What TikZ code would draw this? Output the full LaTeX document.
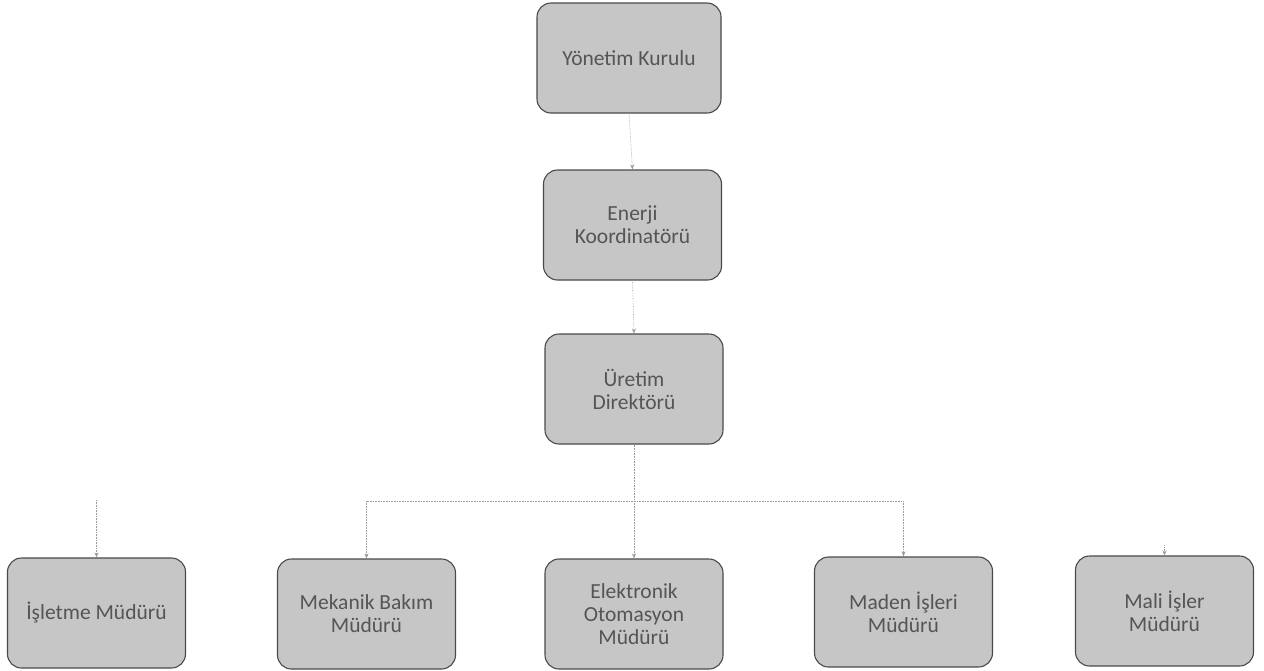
\documentclass[tikz,border=0pt]{standalone}
\usepackage{fontspec}
\setmainfont{Carlito}
\usetikzlibrary{arrows.meta}
\definecolor{boxfill}{HTML}{C6C6C6}
\definecolor{boxline}{HTML}{4A4A4A}
\definecolor{txt}{HTML}{555555}
\definecolor{conn}{HTML}{9A9A9A}
\begin{document}
\begin{tikzpicture}[x=1pt,y=-1pt,
  orgbox/.style={draw=boxline, line width=1.1pt, fill=boxfill, rounded corners=14pt,
    minimum width=178pt, minimum height=110pt, align=center, text=txt,
    font=\fontsize{21.5}{23}\selectfont, inner sep=2pt},
  link/.style={draw=conn, line width=0.6pt, densely dotted, -{Stealth[length=5pt,width=4pt]}},
  plain/.style={draw=conn, line width=0.6pt, densely dotted}]
\useasboundingbox (0,0) rectangle (1264,670);
\node[orgbox, minimum width=184pt] (yk) at (629,58) {Yönetim Kurulu};
\node[orgbox] (ek) at (632.5,225) {Enerji\\Koordinatörü};
\node[orgbox] (ud) at (634,389) {Üretim\\Direktörü};
\node[orgbox] (im) at (96.5,613) {İşletme Müdürü};
\node[orgbox] (mb) at (366.5,614) {Mekanik Bakım\\Müdürü};
\node[orgbox] (eo) at (634,614) {Elektronik\\Otomasyon\\Müdürü};
\node[orgbox] (mi) at (903.5,612) {Maden İşleri\\Müdürü};
\node[orgbox] (ml) at (1164.5,611) {Mali İşler\\Müdürü};
\coordinate (j) at (634,501);
\coordinate (imtop) at (96.5,500);
\draw[link] (yk.south) -- (ek.north);
\draw[link] (ek.south) -- (ud.north);
\draw[plain] (ud.south) -- (j);
\draw[plain] (mb.north |- j) -- (mi.north |- j);
\draw[link] (mb.north |- j) -- (mb.north);
\draw[link] (j) -- (eo.north);
\draw[link] (mi.north |- j) -- (mi.north);
\draw[link] (ml.north) ++(0,-10) -- (ml.north);
\draw[link] (imtop) -- (im.north);
\end{tikzpicture}
\end{document}
